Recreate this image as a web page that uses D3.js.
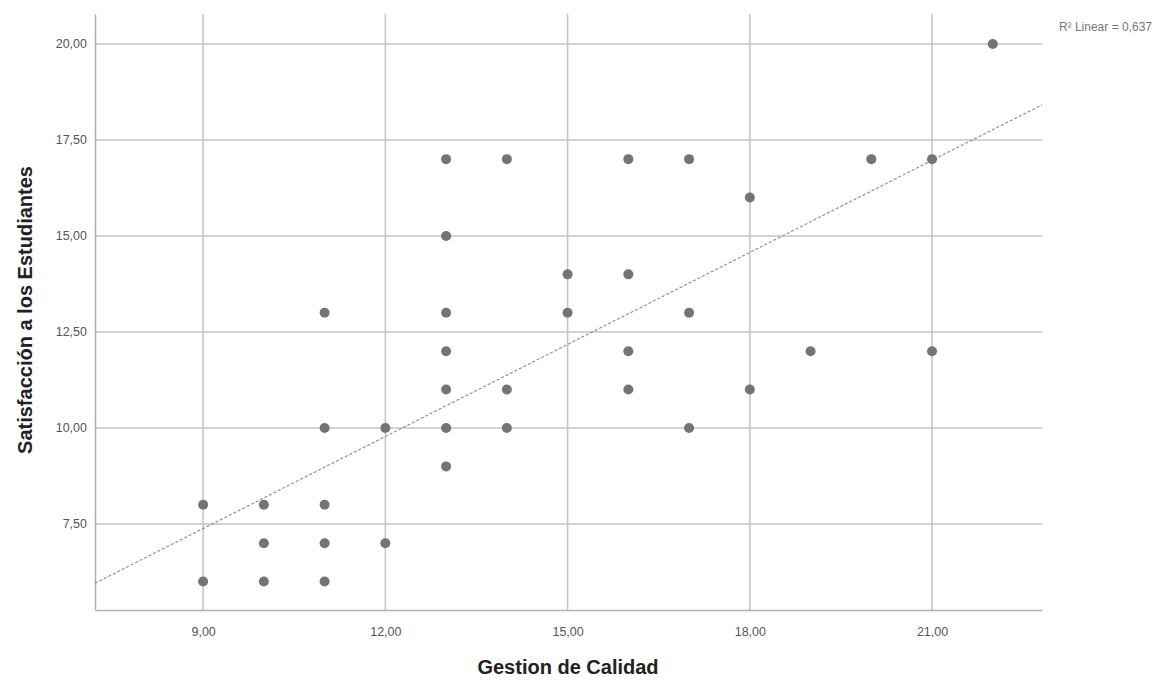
<!DOCTYPE html>
<html lang="es">
<head>
    <meta charset="UTF-8">
    <title>Gestion de Calidad vs Satisfaccion</title>
    <script src="https://cdn.jsdelivr.net/npm/d3@7"></script>
    <style>
        body { margin: 0; background: #fff; }
        svg { display: block; font-family: "Liberation Sans", Arial, sans-serif; }
    </style>
</head>
<body>
<div id="chart"></div>
<script>
    // data
    const gestion      = [9, 9, 10, 10, 10, 11, 11, 11, 11, 11, 12, 12,
                          13, 13, 13, 13, 13, 13, 13, 14, 14, 14, 15, 15,
                          16, 16, 16, 16, 17, 17, 17, 18, 18, 19, 20, 21, 21, 22];
    const satisfaccion = [8, 6, 8, 7, 6, 13, 10, 8, 7, 6, 10, 7,
                          17, 15, 13, 12, 11, 10, 9, 17, 11, 10, 14, 13,
                          17, 14, 12, 11, 17, 13, 10, 16, 11, 12, 17, 17, 12, 20];
    const xTicks = [9, 12, 15, 18, 21];
    const yTicks = [7.5, 10, 12.5, 15, 17.5, 20];
    const fitIntercept = 0.19;
    const fitSlope = 0.799;
    const r2Text = "R² Linear = 0,637";

    const width = 1158, height = 680;
    const plotL = 95, plotR = 1042, plotT = 14, plotB = 610;

    const svg = d3.select('#chart').append('svg')
        .attr('width', width).attr('height', height);

    const x = d3.scaleLinear().domain([7.22, 22.81]).range([plotL, plotR]);
    const y = d3.scaleLinear().domain([5.26, 20.78]).range([plotB, plotT]);

    const fmt = v => d3.format('.2f')(v).replace('.', ',');

    // grid lines
    svg.append('g').selectAll('line').data(xTicks).join('line')
        .attr('x1', d => x(d)).attr('x2', d => x(d))
        .attr('y1', plotT).attr('y2', plotB)
        .attr('stroke', '#c4c4c4').attr('stroke-width', 1.5);
    svg.append('g').selectAll('line').data(yTicks).join('line')
        .attr('x1', plotL).attr('x2', plotR)
        .attr('y1', d => y(d)).attr('y2', d => y(d))
        .attr('stroke', '#c4c4c4').attr('stroke-width', 1.5);

    // axes
    const xAxis = svg.append('g').attr('transform', `translate(0,${plotB})`)
        .call(d3.axisBottom(x).tickValues(xTicks).tickFormat(fmt).tickSize(0).tickPadding(17));
    const yAxis = svg.append('g').attr('transform', `translate(${plotL},0)`)
        .call(d3.axisLeft(y).tickValues(yTicks).tickFormat(fmt).tickSize(0).tickPadding(8));
    [xAxis, yAxis].forEach(a => {
        a.select('.domain').attr('stroke', '#b0b0b0').attr('stroke-width', 1.5);
        a.selectAll('text').attr('fill', '#555').style('font-size', '12.5px');
    });

    // fit line
    const xd = x.domain();
    svg.append('line')
        .attr('x1', x(xd[0])).attr('y1', y(fitIntercept + fitSlope * xd[0]))
        .attr('x2', x(xd[1])).attr('y2', y(fitIntercept + fitSlope * xd[1]))
        .attr('stroke', '#888').attr('stroke-width', 1.1)
        .attr('stroke-dasharray', '3,2');

    // points
    svg.append('g').selectAll('circle').data(d3.range(gestion.length)).join('circle')
        .attr('cx', i => x(gestion[i]))
        .attr('cy', i => y(satisfaccion[i]))
        .attr('r', 5)
        .attr('fill', '#747474');

    // R2 label
    svg.append('text')
        .attr('x', 1152).attr('y', 31)
        .attr('text-anchor', 'end')
        .attr('fill', '#777')
        .style('font-size', '12px')
        .text(r2Text);

    // axis titles
    svg.append('text')
        .attr('x', 568).attr('y', 674)
        .attr('text-anchor', 'middle')
        .style('font-size', '20px').style('font-weight', 'bold').attr('fill', '#222')
        .text('Gestion de Calidad');
    svg.append('text')
        .attr('transform', `translate(32,310) rotate(-90)`)
        .attr('text-anchor', 'middle')
        .style('font-size', '20px').style('font-weight', 'bold').attr('fill', '#222')
        .text('Satisfacción a los Estudiantes');
</script>
</body>
</html>
